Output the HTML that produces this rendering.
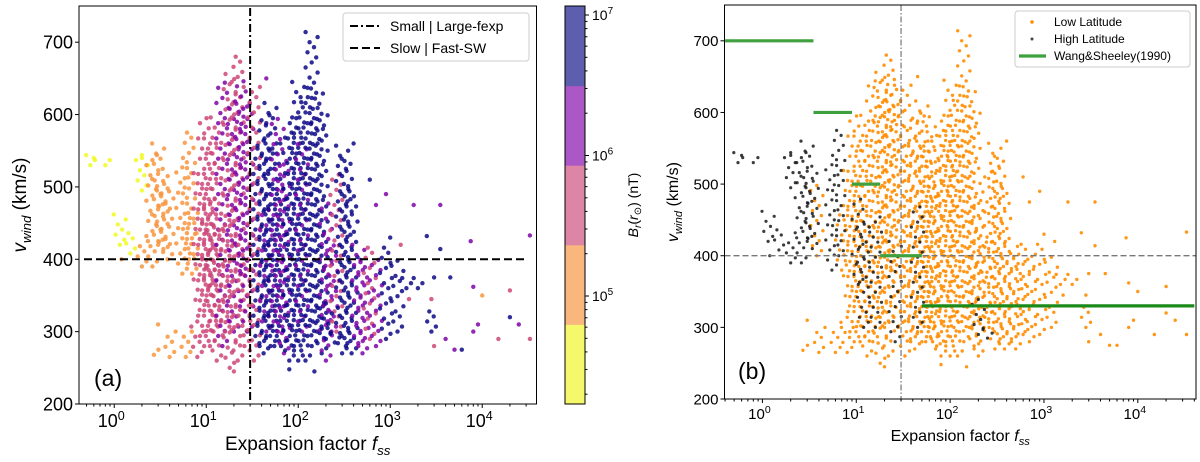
<!DOCTYPE html>
<html><head><meta charset="utf-8"><style>
html,body{margin:0;padding:0;background:#fff;}
svg{display:block;font-family:"Liberation Sans","DejaVu Sans",sans-serif;}
</style></head><body>
<svg id="fig" width="1200" height="462" viewBox="0 0 1200 462" xmlns="http://www.w3.org/2000/svg">
<rect width="1200" height="462" fill="#fff"/>
<g id="pa"></g>
<g id="pb"></g>
<g id="cb"></g>
</svg>
<script>
// ---- data ----
const streakF   = [0.55,0.8,1.15,1.5,2.0,2.0,2.6,3.0,3.4,3.8,2.7,4.0,5.5,6.5,7.0,6.0,8,8.5,9.5,10.5,11,12,13,15,16,18,20,22,24,26,28,33,38,42,45,50,55,60,65,70,80,90,100,110,120,140,160,180,200,230,260,300,330,380,450,500,600,700,900,1200,1500,2000,2800,200,250];
const streakLo  = [530,530,420,408,495,390,390,420,410,400,268,265,380,400,380,265,265,330,280,360,280,300,260,280,300,250,300,260,380,280,300,260,280,270,300,280,280,300,280,270,260,280,260,300,260,280,300,270,260,300,300,270,280,270,280,270,290,280,290,300,360,360,300,290,285];
const streakHi  = [545,540,465,440,550,430,545,560,520,500,275,300,540,580,470,300,320,520,600,480,570,450,600,650,460,660,620,680,650,420,620,640,560,600,470,620,560,600,500,540,580,600,650,560,630,720,640,600,480,420,520,560,540,500,420,400,420,400,420,400,380,380,330,340,300];
const streakCls = [0,0,0,0,0,1,1,1,1,1,1,1,1,1,1,1,2,2,2,2,2,2,2,3,2,2,3,2,3,2,3,2,4,4,3,4,4,3,4,3,4,4,4,3,4,4,4,4,3,3,2,4,4,4,3,3,2,3,4,4,4,4,4,4,4];
const streakLat = [1,1,1,1,1,1,1,1,1,0,0,0,1,1,0,0,0,0,0,1,0,1,0,0,1,0,0,0,0,1,0,0,0,0,1,0,0,0,0,0,0,0,0,0,0,0,0,0,0,0,0,0,0,0,0,0,0,0,0,0,0,0,0,1,1];
const ptF   = [3000,4000,5000,6000,8000,9000,20000,25000,33000,33000,7500,10000,15000,20000,3500,1800,900,700,2500,3500,8000,1300,1000,4500,3000,1600,2800,600,400,45,3,20,80,150,2,1.2,0.6];
const ptV   = [280,290,275,275,300,310,320,310,290,433,425,350,290,357,475,475,490,475,432,414,362,420,430,375,375,345,345,510,560,650,310,245,248,245,540,400,540];
const ptCls = [2,3,3,4,3,3,4,3,2,3,3,1,2,2,3,3,3,3,4,4,3,2,4,4,4,2,2,4,4,3,1,2,4,4,0,1,0];
const ptLat = [0,0,0,0,0,0,0,0,0,0,0,0,0,0,0,0,0,0,0,0,0,0,0,0,0,0,0,0,0,0,0,0,0,0,1,1,1];
const wsLo  = [0.4,3.5,9,18,50];
const wsHi  = [3.5,9,18,50,40000];
const wsV   = [700,600,500,400,330];
const yTicks = [200,300,400,500,600,700];
const xDecades = [0,1,2,3,4];
const cbTicks = [5,6,7];

const NS='http://www.w3.org/2000/svg';
function el(parent,tag,attrs,text){const e=document.createElementNS(NS,tag);for(const k in attrs)e.setAttribute(k,attrs[k]);if(text!==undefined)e.textContent=text;parent.appendChild(e);return e;}
const cols=['#f0f921','#f89540','#cc4778','#7e03a8','#0d0887'];
const cbCols=['#f4f86a','#f9b77e','#dd85a4','#ab57c5','#5d5fae'];
const offs=[1,1.12,0.9,1.06,0.95,1.16,0.86];

function makePanel(g,P,mode){
  const sx=f=>P.x0+(Math.log10(f)-P.lmin)/(P.lmax-P.lmin)*(P.x1-P.x0);
  const sy=v=>P.y1-(v-200)/(750-200)*(P.y1-P.y0);
  const clip='clip'+mode;
  const cp=el(g,'clipPath',{id:clip});el(cp,'rect',{x:P.x0,y:P.y0,width:P.x1-P.x0,height:P.y1-P.y0});
  const dots=el(g,'g',{'clip-path':'url(#'+clip+')'});
  
  
  function drawPoint(f,v,c,lat,pass){
    let fill,r;
    if(mode==='a'){fill=cols[c];r=2.2;}
    else {if(pass===0&&lat)return;if(pass===1&&!lat)return;fill=lat?'#1a1a1a':'#ff8c00';r=lat?1.6:1.7;}
    const d=el(dots,'circle',{cx:sx(f).toFixed(1),cy:sy(v).toFixed(1),r:r,fill:fill,'fill-opacity':mode==='a'?0.85:(lat?0.85:0.9)});
    
    
  }
  const passes=mode==='a'?[0]:[0,1];
  passes.forEach(pass=>{
    for(let i=0;i<streakF.length;i++){
      let k=0;const step=7;
      for(let v=streakLo[i];v<=streakHi[i];v+=step,k++){
        drawPoint(streakF[i]*offs[k%7],v,streakCls[i],streakLat[i],pass);
      }
    }
    for(let i=0;i<ptF.length;i++)drawPoint(ptF[i],ptV[i],ptCls[i],ptLat[i],pass);
  });
  const xl=sx(30);
  if(mode==='a'){
    const vl=el(g,'line',{x1:xl,x2:xl,y1:P.y0+2,y2:P.y1-2,stroke:'#000','stroke-width':2,'stroke-dasharray':'8,3,2,3'});
    
    const hl=el(g,'line',{x1:P.x0+5,x2:P.x1-10,y1:sy(400),y2:sy(400),stroke:'#000','stroke-width':2,'stroke-dasharray':'8,4'});
    
  } else {
    const vl=el(g,'line',{x1:xl,x2:xl,y1:P.y0,y2:P.y1,stroke:'#777','stroke-width':1.2,'stroke-dasharray':'6,2,1.5,2'});
    
    const hl=el(g,'line',{x1:P.x0,x2:P.x1,y1:sy(400),y2:sy(400),stroke:'#777','stroke-width':1.4,'stroke-dasharray':'6,3'});
    
    const wg=el(g,'g',{'clip-path':'url(#'+clip+')'});
    for(let i=0;i<wsV.length;i++){
      const l=el(wg,'line',{x1:sx(wsLo[i]),x2:sx(wsHi[i]),y1:sy(wsV[i]),y2:sy(wsV[i]),stroke:i===4?'#1a8a1a':'#3fa03f','stroke-width':3.2});
      
    }
  }
  const fr=el(g,'rect',{x:P.x0,y:P.y0,width:P.x1-P.x0,height:P.y1-P.y0,fill:'none',stroke:'#000','stroke-width':1});
  
  yTicks.forEach(t=>{
    el(g,'line',{x1:P.x0-4,x2:P.x0,y1:sy(t),y2:sy(t),stroke:'#000'});
    const tx=el(g,'text',{x:P.x0-6,y:sy(t)+P.fs*0.36,'font-size':P.fs,'text-anchor':'end'},t);
    
  });
  for(let d=-1;d<=4;d++){
    for(let m=1;m<10;m++){
      const f=m*Math.pow(10,d);const lf=Math.log10(f);
      if(lf<P.lmin||lf>P.lmax)continue;
      el(g,'line',{x1:sx(f),x2:sx(f),y1:P.y1,y2:P.y1+(m===1?4:2.5),stroke:'#000'});
    }
  }
  xDecades.forEach(d=>{
    const tx=el(g,'text',{x:sx(Math.pow(10,d))-3,y:P.y1+P.fs+5,'font-size':P.fs,'text-anchor':'middle'});
    
    tx.appendChild(document.createTextNode('10'));
    el(tx,'tspan',{dy:-P.fs*0.4,'font-size':P.fs*0.7},String(d));
  });
  const xlab=el(g,'text',{x:(P.x0+P.x1)/2,y:P.xly,'font-size':P.lfs,'text-anchor':'middle'});
  
  xlab.appendChild(document.createTextNode('Expansion factor '));
  el(xlab,'tspan',{'font-style':'italic'},'f');
  el(xlab,'tspan',{'font-style':'italic','font-size':P.lfs*0.7,dy:P.lfs*0.25},'ss');
  const ylab=el(g,'text',{transform:`translate(${P.ylx},${(P.y0+P.y1)/2}) rotate(-90)`,'font-size':P.lfs,'text-anchor':'middle'});
  
  el(ylab,'tspan',{'font-style':'italic'},'v');
  el(ylab,'tspan',{'font-style':'italic','font-size':P.lfs*0.7,dy:P.lfs*0.25},'wind');
  el(ylab,'tspan',{dy:-P.lfs*0.25},' (km/s)');
  const pl=el(g,'text',{x:P.plx,y:P.ply,'font-size':23},mode==='a'?'(a)':'(b)');
  
}

const PA={x0:79,x1:536.5,y0:6,y1:404,lmin:-0.383,lmax:4.59,fs:18,lfs:19,xly:450,ylx:26,plx:94,ply:386};
const PB={x0:724.5,x1:1196,y0:5,y1:399,lmin:-0.404,lmax:4.62,fs:15,lfs:16,xly:441,ylx:678,plx:738,ply:379};
makePanel(document.getElementById('pa'),PA,'a');
makePanel(document.getElementById('pb'),PB,'b');

const ga=document.getElementById('pa');
const la=el(ga,'g',{});
el(la,'rect',{x:343,y:13,width:186,height:48,rx:3,fill:'#fff','fill-opacity':0.85,stroke:'#ccc'});
el(la,'line',{x1:350,x2:380,y1:26,y2:26,stroke:'#000','stroke-width':2,'stroke-dasharray':'8,3,2,3'});
el(la,'text',{x:390,y:31,'font-size':14},'Small | Large-fexp');
el(la,'line',{x1:350,x2:380,y1:48,y2:48,stroke:'#000','stroke-width':2,'stroke-dasharray':'8,4'});
el(la,'text',{x:390,y:53,'font-size':14},'Slow | Fast-SW');
const gb=document.getElementById('pb');
const lb=el(gb,'g',{});
el(lb,'rect',{x:1015,y:11,width:175,height:56,rx:3,fill:'#fff','fill-opacity':0.85,stroke:'#ccc'});
el(lb,'circle',{cx:1032,cy:22,r:1.8,fill:'#ff8c00'});
el(lb,'text',{x:1054,y:26,'font-size':12},'Low Latitude');
el(lb,'circle',{cx:1032,cy:39,r:1.5,fill:'#444'});
el(lb,'text',{x:1054,y:43,'font-size':12},'High Latitude');
el(lb,'line',{x1:1019,x2:1046,y1:56,y2:56,stroke:'#3fa03f','stroke-width':3.2});
el(lb,'text',{x:1054,y:60,'font-size':12},'Wang&Sheeley(1990)');

const cb=document.getElementById('cb');
const cx0=565,cx1=585,cy0=6,cy1=404;
const bh=(cy1-cy0)/5;
for(let i=0;i<5;i++){
  const r=el(cb,'rect',{x:cx0,y:cy1-(i+1)*bh,width:cx1-cx0,height:bh+0.5,fill:cbCols[i]});
  
}
el(cb,'rect',{x:cx0,y:cy0,width:cx1-cx0,height:cy1-cy0,fill:'none',stroke:'#000'});
const cyOf=l=>15+(7-l)*140.5;
for(let l=4;l<=7;l++){for(let m=1;m<10;m++){const y=cyOf(l+Math.log10(m));if(y<cy0||y>cy1)continue;el(cb,'line',{x1:cx1,x2:cx1+(m===1?4:2.5),y1:y,y2:y,stroke:'#000'});}}
cbTicks.forEach(l=>{
  const t=el(cb,'text',{x:cx1+7,y:cyOf(l)+5,'font-size':14});
  
  t.appendChild(document.createTextNode('10'));el(t,'tspan',{dy:-6,'font-size':10},String(l));
});
const cl=el(cb,'text',{transform:'translate(638,205) rotate(-90)','font-size':14,'text-anchor':'middle'});

el(cl,'tspan',{'font-style':'italic'},'B');
el(cl,'tspan',{'font-style':'italic','font-size':10,dy:3},'r');
el(cl,'tspan',{dy:-3},'(');
el(cl,'tspan',{'font-style':'italic'},'r');
el(cl,'tspan',{'font-size':10,dy:3},'⊙');
el(cl,'tspan',{dy:-3},') (nT)');
</script>
</body></html>
